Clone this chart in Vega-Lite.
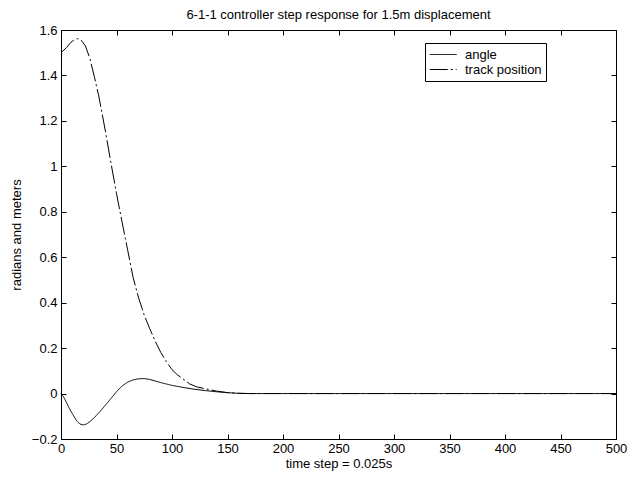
{
  "$schema": "https://vega.github.io/schema/vega-lite/v6.json",
  "autosize": "none",
  "width": 555,
  "height": 409,
  "padding": {"left": 61, "top": 30, "right": 12, "bottom": 42},
  "background": "white",
  "title": {"text": "6-1-1 controller step response for 1.5m displacement", "font": "Liberation Sans", "fontSize": 13, "fontWeight": "normal", "color": "#000", "offset": 2},
  "config": {
    "view": {"stroke": "#000", "strokeWidth": 1},
    "axis": {"font": "Liberation Sans", "labelFont": "Liberation Sans", "titleFont": "Liberation Sans", "labelFontSize": 13, "titleFontSize": 13, "titleFontWeight": "normal", "labelColor": "#000", "titleColor": "#000", "domainColor": "#000", "tickColor": "#000", "grid": false},
    "legend": {"labelFont": "Liberation Sans", "labelFontSize": 13, "labelColor": "#000"}
  },
  "datasets": {
    "curves": [
      {"t": 0, "v": 0, "s": "angle"},
      {"t": 2, "v": -0.012, "s": "angle"},
      {"t": 5, "v": -0.04, "s": "angle"},
      {"t": 8, "v": -0.07, "s": "angle"},
      {"t": 11, "v": -0.095, "s": "angle"},
      {"t": 14, "v": -0.119, "s": "angle"},
      {"t": 17, "v": -0.134, "s": "angle"},
      {"t": 20, "v": -0.138, "s": "angle"},
      {"t": 23, "v": -0.134, "s": "angle"},
      {"t": 26, "v": -0.124, "s": "angle"},
      {"t": 30, "v": -0.106, "s": "angle"},
      {"t": 35, "v": -0.08, "s": "angle"},
      {"t": 40, "v": -0.051, "s": "angle"},
      {"t": 45, "v": -0.022, "s": "angle"},
      {"t": 50, "v": 0.008, "s": "angle"},
      {"t": 55, "v": 0.033, "s": "angle"},
      {"t": 60, "v": 0.05, "s": "angle"},
      {"t": 65, "v": 0.06, "s": "angle"},
      {"t": 70, "v": 0.065, "s": "angle"},
      {"t": 75, "v": 0.066, "s": "angle"},
      {"t": 80, "v": 0.062, "s": "angle"},
      {"t": 85, "v": 0.055, "s": "angle"},
      {"t": 90, "v": 0.048, "s": "angle"},
      {"t": 100, "v": 0.036, "s": "angle"},
      {"t": 110, "v": 0.027, "s": "angle"},
      {"t": 120, "v": 0.019, "s": "angle"},
      {"t": 130, "v": 0.013, "s": "angle"},
      {"t": 140, "v": 0.008, "s": "angle"},
      {"t": 150, "v": 0.004, "s": "angle"},
      {"t": 160, "v": 0.001, "s": "angle"},
      {"t": 170, "v": 0, "s": "angle"},
      {"t": 250, "v": 0, "s": "angle"},
      {"t": 350, "v": 0, "s": "angle"},
      {"t": 500, "v": 0, "s": "angle"},
      {"t": 0, "v": 1.5, "s": "track position"},
      {"t": 5, "v": 1.523, "s": "track position"},
      {"t": 9, "v": 1.546, "s": "track position"},
      {"t": 12, "v": 1.557, "s": "track position"},
      {"t": 15, "v": 1.562, "s": "track position"},
      {"t": 18, "v": 1.556, "s": "track position"},
      {"t": 22, "v": 1.53, "s": "track position"},
      {"t": 26, "v": 1.475, "s": "track position"},
      {"t": 30, "v": 1.395, "s": "track position"},
      {"t": 34, "v": 1.31, "s": "track position"},
      {"t": 40, "v": 1.155, "s": "track position"},
      {"t": 45, "v": 1.015, "s": "track position"},
      {"t": 50, "v": 0.88, "s": "track position"},
      {"t": 55, "v": 0.755, "s": "track position"},
      {"t": 60, "v": 0.633, "s": "track position"},
      {"t": 65, "v": 0.51, "s": "track position"},
      {"t": 70, "v": 0.42, "s": "track position"},
      {"t": 75, "v": 0.345, "s": "track position"},
      {"t": 80, "v": 0.285, "s": "track position"},
      {"t": 85, "v": 0.229, "s": "track position"},
      {"t": 90, "v": 0.18, "s": "track position"},
      {"t": 95, "v": 0.14, "s": "track position"},
      {"t": 100, "v": 0.105, "s": "track position"},
      {"t": 105, "v": 0.082, "s": "track position"},
      {"t": 110, "v": 0.064, "s": "track position"},
      {"t": 116, "v": 0.042, "s": "track position"},
      {"t": 122, "v": 0.03, "s": "track position"},
      {"t": 130, "v": 0.021, "s": "track position"},
      {"t": 140, "v": 0.011, "s": "track position"},
      {"t": 150, "v": 0.004, "s": "track position"},
      {"t": 160, "v": 0.001, "s": "track position"},
      {"t": 170, "v": 0, "s": "track position"},
      {"t": 500, "v": 0, "s": "track position"}
    ]
  },
  "data": {"name": "curves"},
  "layer": [
    {
      "mark": {"type": "line", "color": "#000", "strokeWidth": 1},
      "encoding": {
        "x": {"field": "t", "type": "quantitative", "scale": {"domain": [0, 500], "nice": false}, "axis": {"title": "time step = 0.025s", "values": [0,50,100,150,200,250,300,350,400,450,500], "tickSize": -5, "labelPadding": 8, "titlePadding": 2, "labelFlush": false}},
        "y": {"field": "v", "type": "quantitative", "scale": {"domain": [-0.2, 1.6], "nice": false, "zero": false}, "axis": {"title": "radians and meters", "values": [-0.2,0,0.2,0.4,0.6,0.8,1,1.2,1.4,1.6], "format": ".1~f", "tickSize": -5, "labelPadding": 9, "titlePadding": 8, "labelFlush": false}},
        "strokeDash": {"field": "s", "type": "nominal", "scale": {"domain": ["angle", "track position"], "range": [[1, 0], [18, 3, 2, 3]]}, "legend": {"title": null, "orient": "none", "legendX": 364, "legendY": 13, "symbolType": "M-1,0H3", "symbolSize": 180, "symbolStrokeColor": "#000", "symbolStrokeWidth": 1, "symbolFillColor": "transparent", "strokeColor": "#000", "fillColor": "white", "padding": 4, "rowPadding": -3, "labelOffset": 21}}
      }
    },
    {
      "mark": {"type": "point", "opacity": 0},
      "encoding": {
        "x": {"field": "t", "type": "quantitative", "scale": {"domain": [0, 500], "nice": false}, "axis": {"orient": "top", "title": null, "labels": false, "values": [0,50,100,150,200,250,300,350,400,450,500], "tickSize": -5}},
        "y": {"field": "v", "type": "quantitative", "scale": {"domain": [-0.2, 1.6], "nice": false, "zero": false}, "axis": {"orient": "right", "title": null, "labels": false, "values": [-0.2,0,0.2,0.4,0.6,0.8,1,1.2,1.4,1.6], "tickSize": -5}}
      }
    }
  ],
  "resolve": {"axis": {"x": "independent", "y": "independent"}}
}
